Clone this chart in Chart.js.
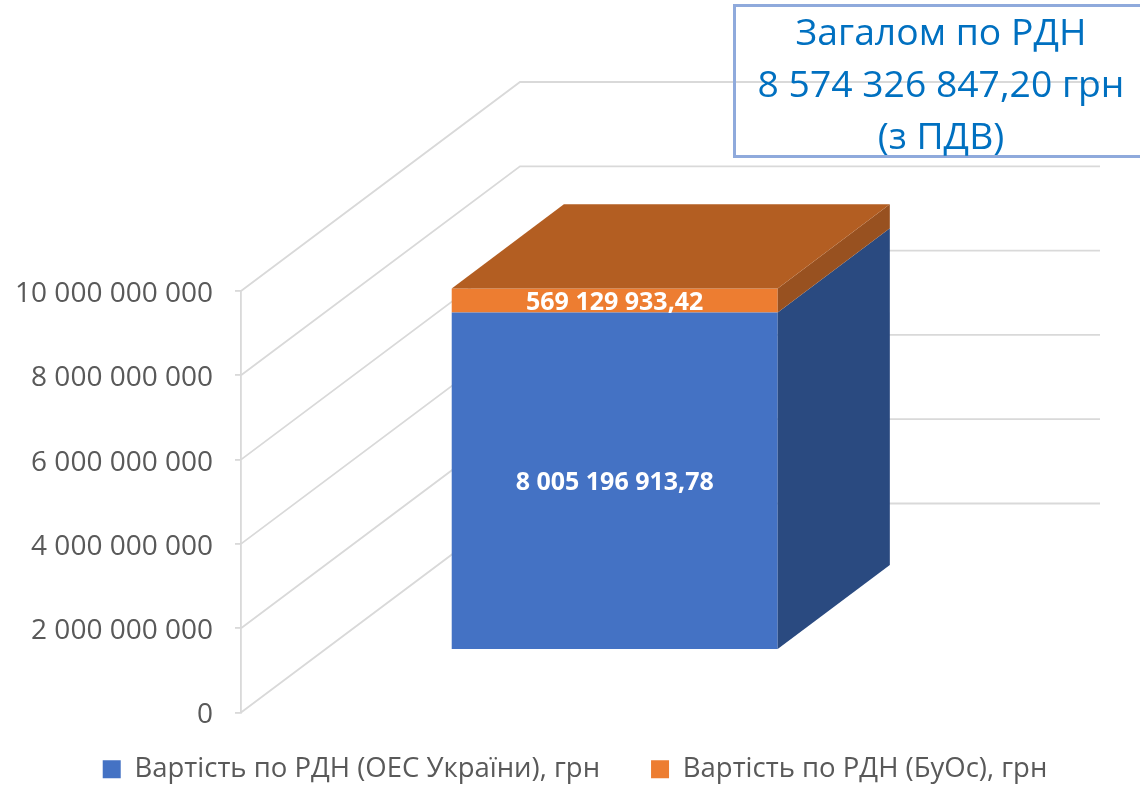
<!DOCTYPE html>
<html lang="uk">
<head>
<meta charset="utf-8">
<title>Вартість по РДН</title>
<script src="https://cdn.jsdelivr.net/npm/chart.js@4"></script>
<style>
  html, body { margin: 0; padding: 0; background: #fff; overflow: hidden; }
  #wrap { position: relative; width: 1140px; height: 785px; overflow: hidden; }
  #total-box {
    position: absolute; left: 733px; top: 4px; width: 420px; height: 148px;
    border: 3px solid #8FAADC; color: #0070C0;
    font: 37.3px/52px "Open Sans", sans-serif; text-align: center;
  }
  #total-box div { width: 410px; position: relative; top: -2px; }
</style>
</head>
<body>
<div id="wrap">
  <canvas id="rdn-chart" width="1140" height="785"></canvas>
  <div id="total-box"><div>Загалом по РДН</div><div>8 574 326 847,20 грн</div><div>(з ПДВ)</div></div>
</div>
<script>
'use strict';

// *************** DATA
let categories = ['РДН'];
let seriesNames = ['Вартість по РДН (ОЕС України), грн', 'Вартість по РДН (БуОс), грн'];
let oesValues = [8005196913.78];
let buosValues = [569129933.42];
let axisTicks = [0, 2000000000, 4000000000, 6000000000, 8000000000, 10000000000];

// *************** STYLE
let fontName = '"Open Sans", sans-serif';
let textGray = '#595959';
let gridGray = '#D9D9D9';
let frontColors = ['#4472C4', '#ED7D31'];
let sideColors = ['#2A4A80', '#985120'];
let topColor = '#B35E22';

// fake 3D: floor goes this far back, the bar sits part way in
let wallDx = 279;
let wallDy = -209;
let barShift = 0.3;
let barDepth = 0.402;
let legendLift = 8;

function formatSpaces(value) {
  return String(value).replace(/\B(?=(\d{3})+(?!\d))/g, ' ');
}

function formatLabel(value) {
  let parts = value.toFixed(2).split('.');
  return formatSpaces(parts[0]) + ',' + parts[1];
}

function fillFace(ctx, color, points) {
  ctx.fillStyle = color;
  ctx.beginPath();
  ctx.moveTo(points[0][0], points[0][1]);
  for (let i = 1; i < points.length; i++) {
    ctx.lineTo(points[i][0], points[i][1]);
  }
  ctx.closePath();
  ctx.fill();
}

let wallsPlugin = {
  id: 'walls',
  afterLayout(chart) {
    chart.legend.top -= legendLift;
  },
  beforeDatasetsDraw(chart) {
    let ctx = chart.ctx;
    let area = chart.chartArea;
    let y = chart.scales.y;
    ctx.save();
    ctx.strokeStyle = gridGray;
    ctx.lineWidth = 1.8;
    for (let i = 0; i < axisTicks.length; i++) {
      let py = y.getPixelForValue(axisTicks[i]);
      ctx.beginPath();
      ctx.moveTo(area.left, py);
      ctx.lineTo(area.left + wallDx, py + wallDy);
      ctx.lineTo(area.right + wallDx, py + wallDy);
      ctx.stroke();
    }
    ctx.restore();

    // bars are drawn by chart.js, only moved back on to the floor
    ctx.save();
    ctx.translate(wallDx * barShift, wallDy * barShift);
  },
  afterDatasetsDraw(chart) {
    let ctx = chart.ctx;
    ctx.restore();

    let dx = wallDx * barDepth;
    let dy = wallDy * barDepth;
    let ox = wallDx * barShift;
    let oy = wallDy * barShift;
    let left, right, top;

    for (let i = 0; i < chart.data.datasets.length; i++) {
      let bar = chart.getDatasetMeta(i).data[0];
      left = bar.x - bar.width / 2 + ox;
      right = bar.x + bar.width / 2 + ox;
      top = bar.y + oy;
      let base = bar.base + oy;
      fillFace(ctx, sideColors[i], [[right, base], [right + dx, base + dy], [right + dx, top + dy], [right, top]]);
    }
    fillFace(ctx, topColor, [[left, top], [right, top], [right + dx, top + dy], [left + dx, top + dy]]);

    ctx.save();
    ctx.fillStyle = '#fff';
    ctx.font = 'bold 25px ' + fontName;
    ctx.textAlign = 'center';
    ctx.textBaseline = 'middle';
    for (let i = 0; i < chart.data.datasets.length; i++) {
      let bar = chart.getDatasetMeta(i).data[0];
      let value = chart.data.datasets[i].data[0];
      ctx.fillText(formatLabel(value), bar.x + ox, (bar.y + bar.base) / 2 + oy + 2);
    }
    ctx.restore();
  }
};

let chartCanvas = document.getElementById('rdn-chart');

new Chart(chartCanvas, {
  type: 'bar',
  data: {
    labels: categories,
    datasets: [
      { label: seriesNames[0], data: oesValues, backgroundColor: frontColors[0], stack: 'total' },
      { label: seriesNames[1], data: buosValues, backgroundColor: frontColors[1], stack: 'total' }
    ]
  },
  options: {
    responsive: false,
    animation: false,
    events: [],
    barPercentage: 0.562,
    categoryPercentage: 1,
    layout: { padding: { top: 291, bottom: -16, left: 10, right: 0 } },
    plugins: {
      title: { display: false },
      tooltip: { enabled: false },
      legend: {
        position: 'bottom',
        labels: {
          boxWidth: 18,
          boxHeight: 18,
          padding: 51,
          color: textGray,
          font: { family: fontName, size: 27.5 }
        }
      }
    },
    scales: {
      x: { display: false },
      y: {
        min: 0,
        max: 10000000000,
        afterFit(scale) { scale.width = 231; },
        afterBuildTicks(scale) { scale.ticks = axisTicks.map(v => ({ value: v })); },
        border: { display: true, color: gridGray, width: 1.8 },
        grid: { drawOnChartArea: false, color: gridGray, tickLength: 6, lineWidth: 1.8 },
        ticks: {
          padding: 22,
          labelOffset: 3,
          color: textGray,
          font: { family: fontName, size: 28 },
          callback: v => formatSpaces(v)
        }
      },
      // empty axis on the right, keeps room for the back wall
      spacer: {
        position: 'right',
        afterFit(scale) { scale.width = 319; },
        border: { display: false },
        grid: { display: false },
        ticks: { display: false }
      }
    }
  },
  plugins: [wallsPlugin]
});
</script>
</body>
</html>
